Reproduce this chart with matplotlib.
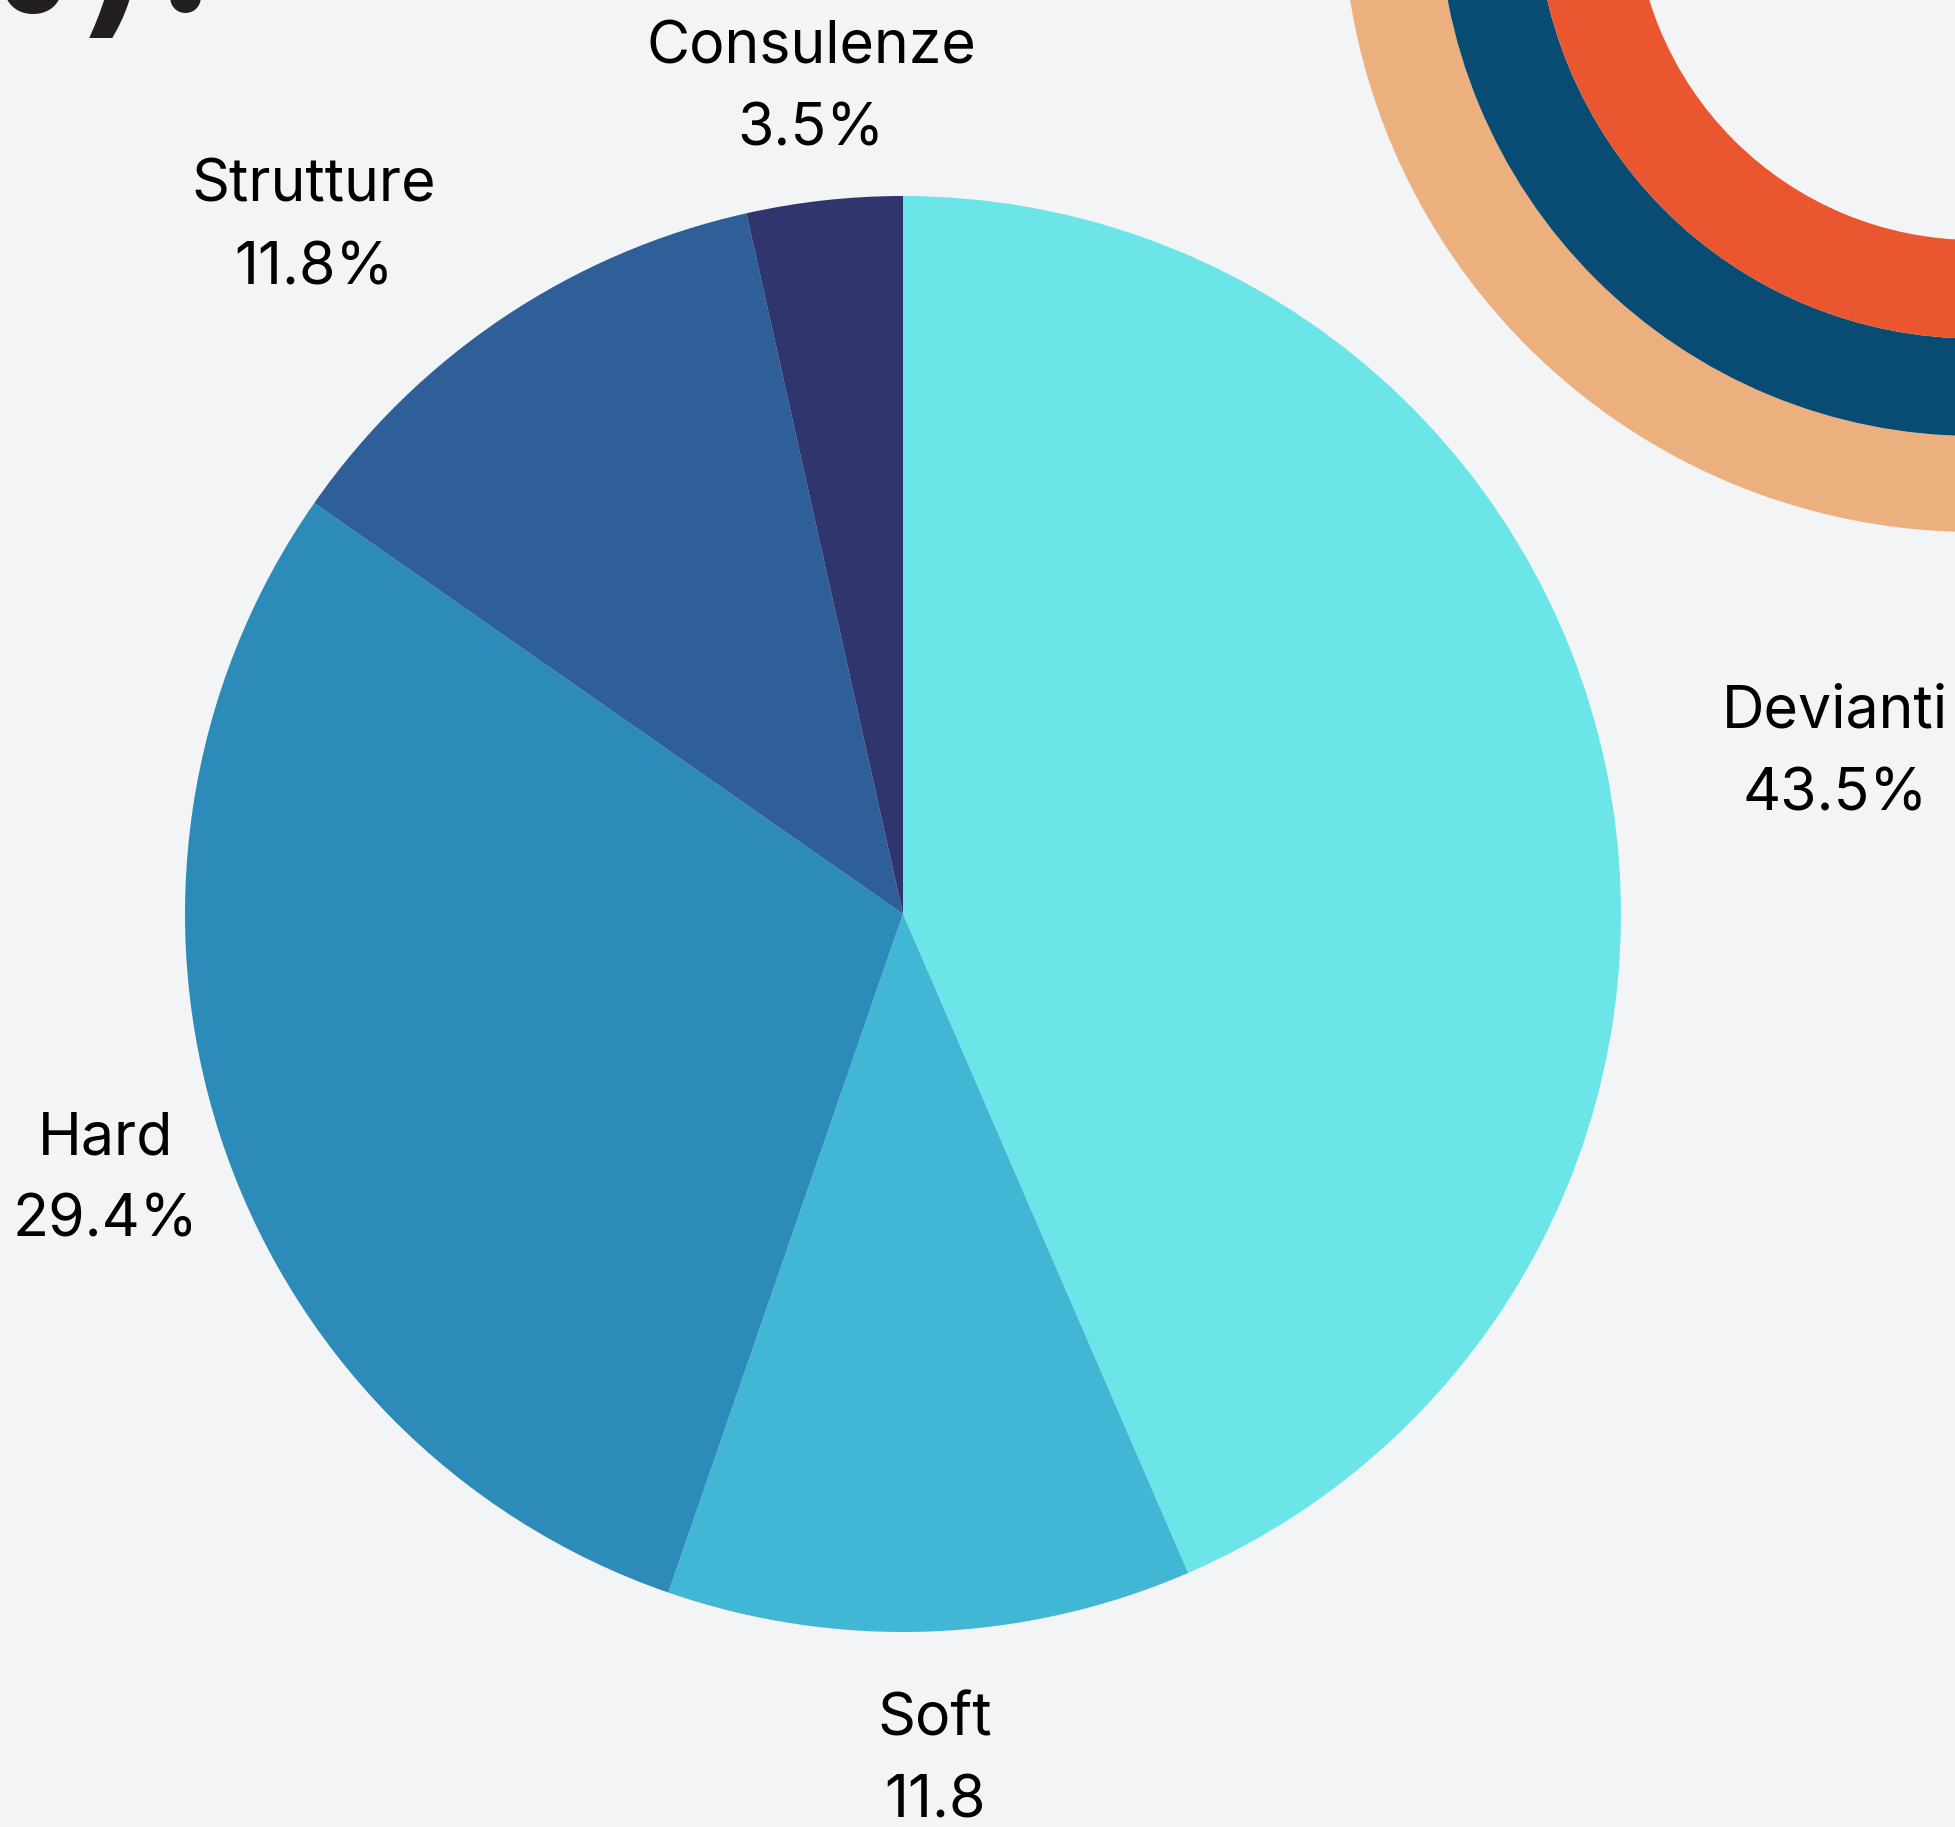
import matplotlib
matplotlib.use("Agg")
import numpy as np
import matplotlib.pyplot as plt
from matplotlib.patches import Wedge

# slice data (clockwise from 12 o'clock)
labels = ["Devianti", "Soft", "Hard", "Strutture", "Consulenze"]
values = [43.5, 11.8, 29.4, 11.8, 3.5]
value_text = ["43.5%", "11.8", "29.4%", "11.8%", "3.5%"]
colors = ["#6CE5E8", "#42B7D5", "#2D8BBA", "#2F5F98", "#31356E"]

# label placement (radius multiple and angle nudge in degrees)
label_dist = [1.319, 1.171, 1.168, 1.267, 1.166]
label_nudge = [-1.5, 0.0, 0.0, 6.5, 0.0]

# decorative rings in the top-right corner
ring_colors = ["#EBB07E", "#084B73", "#E9562F"]
ring_radii = [633, 537, 439.5, 341]

W, H = 1956, 1827
BG = "#F3F4F6"

fig = plt.figure(figsize=(W / 100, H / 100), dpi=100, facecolor=BG)
ax = fig.add_axes([0, 0, 1, 1])
ax.set_facecolor(BG)

cx, cy, R = 903, H - 914, 718

wedges, _ = ax.pie(values, colors=colors, startangle=90, counterclock=False,
                   center=(cx, cy), radius=R, frame=True,
                   wedgeprops=dict(linewidth=0))

for w, lab, vt, d, nd in zip(wedges, labels, value_text, label_dist, label_nudge):
    mid = np.deg2rad((w.theta1 + w.theta2) / 2 + nd)
    x = cx + d * R * np.cos(mid)
    y = cy + d * R * np.sin(mid) - 7
    ax.text(x, y, f"{lab}\n{vt}", ha="center", va="center", fontsize=42.5,
            family="Inter", color="#000000", linespacing=1.64)

# rings
ring_c = (1975, H + 101)
for i, col in enumerate(ring_colors):
    outer = ring_radii[i]
    inner = ring_radii[i + 1]
    ax.add_patch(Wedge(ring_c, outer, 0, 360, width=outer - inner,
                       facecolor=col, edgecolor="none"))

# cropped title, only its bottom edge is visible
ax.text(216, H - 11, "Ripartizione (%):", ha="right", va="baseline",
        fontsize=140, family="Inter", fontweight="semibold", color="#231F20")

ax.set_xlim(0, W)
ax.set_ylim(0, H)
ax.set_aspect("equal")
ax.axis("off")

fig.savefig("out.png", dpi=100, facecolor=BG)
